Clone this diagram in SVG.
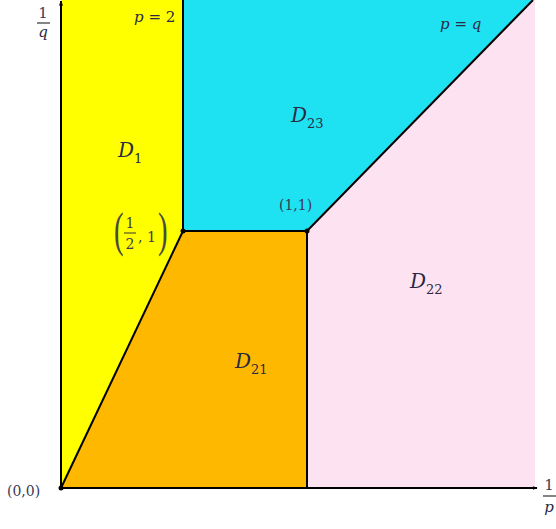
<svg xmlns="http://www.w3.org/2000/svg" width="556" height="529" viewBox="0 0 556 529">
<defs>
<marker id="arr" viewBox="0 0 10 10" refX="9" refY="5" markerWidth="5" markerHeight="5" orient="auto" markerUnits="userSpaceOnUse">
<path d="M0,1 L10,5 L0,9 z" fill="#000"/>
</marker>
<style>
.lbl{font-family:"DejaVu Serif","Liberation Serif",serif;font-style:italic;fill:#2a2a45}
.num{font-family:"DejaVu Serif","Liberation Serif",serif;fill:#3a3a55}
.par{font-family:"Liberation Serif",serif;fill:#4a4a40}
.edge{stroke:#000;stroke-width:2;fill:none}
</style>
</defs>
<rect width="556" height="529" fill="#fff"/>
<g id="D1"><polygon points="61,0 183,0 183,231 61,488" fill="#ffff00"/>
<text class="lbl" x="118" y="157" font-size="20">D<tspan font-size="13" dy="6" font-style="normal">1</tspan></text></g>
<g id="D23"><polygon points="183,0 533,0 307,231 183,231" fill="#1ee2f2"/>
<text class="lbl" x="291" y="122" font-size="20">D<tspan font-size="13" dy="6" font-style="normal">23</tspan></text></g>
<g id="D22"><polygon points="533,0 535,0 535,488 307,488 307,231" fill="#fde2f1"/>
<text class="lbl" x="410" y="288" font-size="20">D<tspan font-size="13" dy="6" font-style="normal">22</tspan></text></g>
<g id="D21"><polygon points="61,488 183,231 307,231 307,488" fill="#ffb800"/>
<text class="lbl" x="235" y="368" font-size="20">D<tspan font-size="13" dy="6" font-style="normal">21</tspan></text></g>
<g id="connectors">
<line class="edge" x1="61" y1="488" x2="61" y2="1" marker-end="url(#arr)"/>
<line class="edge" x1="61" y1="488" x2="537" y2="488" marker-end="url(#arr)"/>
<line class="edge" x1="183" y1="0" x2="183" y2="231"/>
<line class="edge" x1="61" y1="488" x2="183" y2="231"/>
<line class="edge" x1="183" y1="231" x2="307" y2="231"/>
<line class="edge" x1="307" y1="231" x2="307" y2="488"/>
<line class="edge" x1="307" y1="231" x2="533" y2="0"/>
<circle cx="183" cy="231" r="2.5" fill="#000"/>
<circle cx="307" cy="231" r="2.5" fill="#000"/>
<circle cx="61" cy="488" r="2.5" fill="#000"/>
</g>
<g id="labels">
<text class="num" x="43" y="18" font-size="15" text-anchor="middle">1</text>
<line x1="37" y1="23" x2="50" y2="23" stroke="#333" stroke-width="1.2"/>
<text class="lbl" x="43" y="37" font-size="15" text-anchor="middle">q</text>
<text class="num" x="549" y="490" font-size="15" text-anchor="middle">1</text>
<line x1="543" y1="496" x2="556" y2="496" stroke="#333" stroke-width="1.2"/>
<text class="lbl" x="549" y="512" font-size="15" text-anchor="middle">p</text>
<text class="lbl" x="134" y="22" font-size="15">p <tspan font-style="normal">= 2</tspan></text>
<text class="lbl" x="440" y="29" font-size="15">p <tspan font-style="normal">=</tspan> q</text>
<text class="num" x="279" y="210" font-size="14">(1,1)</text>
<text class="num" x="7" y="496" font-size="14">(0,0)</text>
<text class="par" transform="translate(114,246) scale(0.8,1.35)" font-size="36">(</text>
<text class="num" x="130" y="228" font-size="14" text-anchor="middle">1</text>
<line x1="124" y1="233" x2="136" y2="233" stroke="#333" stroke-width="1"/>
<text class="num" x="130" y="249" font-size="14" text-anchor="middle">2</text>
<text class="num" x="138" y="242" font-size="14">, 1</text>
<text class="par" transform="translate(158,246) scale(0.8,1.35)" font-size="36">)</text>
</g>
</svg>
